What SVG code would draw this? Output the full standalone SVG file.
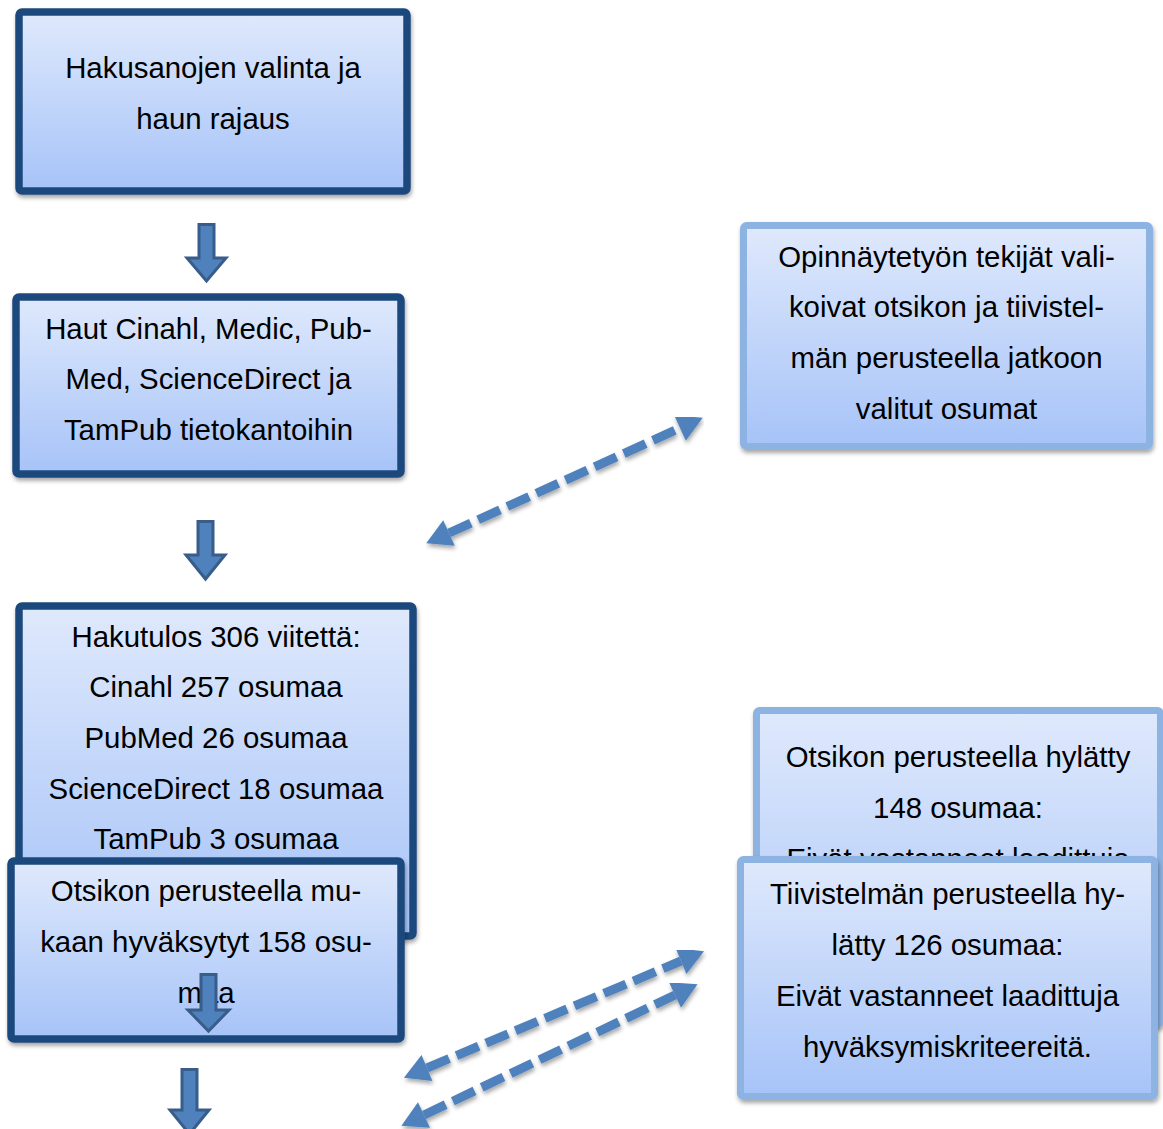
<svg xmlns="http://www.w3.org/2000/svg" width="1163" height="1129" viewBox="0 0 1163 1129">
<style>
  .txt { font-family: "Liberation Sans", Arial, sans-serif; font-size: 29.4px; fill: #000; text-anchor: middle; }
  .dark { fill: url(#g); stroke: #1F497D; stroke-width: 7.5; filter: url(#sh); }
  .light { fill: url(#g); stroke: #8DB3E2; stroke-width: 7; filter: url(#sh); }
  .block { fill: #4F81BD; stroke: #385D8A; stroke-width: 3; stroke-linejoin: miter; }
  .dash { fill: none; stroke: #4F81BD; stroke-width: 9; stroke-dasharray: 24 8; marker-start: url(#ah); marker-end: url(#ah); filter: url(#sh); }
</style>
<defs>
  <linearGradient id="g" x1="0" y1="0" x2="0" y2="1">
    <stop offset="0" stop-color="#DFE9FC"/>
    <stop offset="1" stop-color="#A6C3F8"/>
  </linearGradient>
  <filter id="sh" x="-10%" y="-10%" width="120%" height="130%">
    <feDropShadow dx="1" dy="3" stdDeviation="2" flood-color="#000" flood-opacity="0.35"/>
  </filter>
  <marker id="ah" markerUnits="userSpaceOnUse" markerWidth="30" markerHeight="32" viewBox="0 -16 26 32" refX="0" refY="0" orient="auto-start-reverse">
    <path d="M0,-14 L25,0 L0,14 Z" fill="#4F81BD"/>
  </marker>
</defs>
<rect width="1163" height="1129" fill="#fff"/>

<g id="n1">
  <rect class="dark" x="19" y="12" width="388" height="179" rx="3"/>
  <text class="txt" x="213" y="78"><tspan x="213">Hakusanojen valinta ja</tspan><tspan x="213" dy="51">haun rajaus</tspan></text>
</g>
<g id="n2">
  <rect class="dark" x="16" y="297" width="385" height="177" rx="3"/>
  <text class="txt" x="208.5" y="339"><tspan x="208.5">Haut Cinahl, Medic, Pub-</tspan><tspan x="208.5" dy="50">Med, ScienceDirect ja</tspan><tspan x="208.5" dy="51">TamPub tietokantoihin</tspan></text>
</g>
<g id="n3">
  <rect class="dark" x="19" y="606" width="394" height="330" rx="3"/>
  <text class="txt" x="216" y="647"><tspan x="216">Hakutulos 306 viitettä:</tspan><tspan x="216" dy="50">Cinahl 257 osumaa</tspan><tspan x="216" dy="51">PubMed 26 osumaa</tspan><tspan x="216" dy="51">ScienceDirect 18 osumaa</tspan><tspan x="216" dy="50">TamPub 3 osumaa</tspan></text>
</g>
<g id="n4">
  <rect class="dark" x="11" y="861" width="390" height="178" rx="3"/>
  <text class="txt" x="206" y="901"><tspan x="206">Otsikon perusteella mu-</tspan><tspan x="206" dy="51">kaan hyväksytyt 158 osu-</tspan><tspan x="206" dy="51">maa</tspan></text>
</g>
<g id="nA">
  <rect class="light" x="743.5" y="225.5" width="406" height="221" rx="3"/>
  <text class="txt" x="946.5" y="267"><tspan x="946.5">Opinnäytetyön tekijät vali-</tspan><tspan x="946.5" dy="50">koivat otsikon ja tiivistel-</tspan><tspan x="946.5" dy="51">män perusteella jatkoon</tspan><tspan x="946.5" dy="51">valitut osumat</tspan></text>
</g>
<g id="nB">
  <rect class="light" x="756.5" y="710.5" width="404" height="314" rx="3"/>
  <text class="txt" x="958" y="767"><tspan x="958">Otsikon perusteella hylätty</tspan><tspan x="958" dy="51">148 osumaa:</tspan><tspan x="958" dy="51">Eivät vastanneet laadittuja</tspan></text>
</g>
<g id="nC">
  <rect class="light" x="740.5" y="859.5" width="414" height="237" rx="3"/>
  <text class="txt" x="947.5" y="904"><tspan x="947.5">Tiivistelmän perusteella hy-</tspan><tspan x="947.5" dy="51">lätty 126 osumaa:</tspan><tspan x="947.5" dy="51">Eivät vastanneet laadittuja</tspan><tspan x="947.5" dy="51">hyväksymiskriteereitä.</tspan></text>
</g>

<g id="connectors">
  <polygon class="block" points="199,224.5 214,224.5 214,258 226,258 206.5,281 187,258 199,258"/>
  <polygon class="block" points="198,521.5 213,521.5 213,555 225,555 205.5,579 186,555 198,555"/>
  <polygon class="block" points="201,974.5 216,974.5 216,1010 229,1010 208.5,1031 188,1010 201,1010"/>
  <polygon class="block" points="182,1069.5 197,1069.5 197,1110 209,1110 189.5,1134 170,1110 182,1110"/>
  <line class="dash" x1="449" y1="533" x2="680" y2="428"/>
  <line class="dash" x1="427" y1="1068" x2="681" y2="961"/>
  <line class="dash" x1="424" y1="1115" x2="675" y2="995"/>
</g>
</svg>
